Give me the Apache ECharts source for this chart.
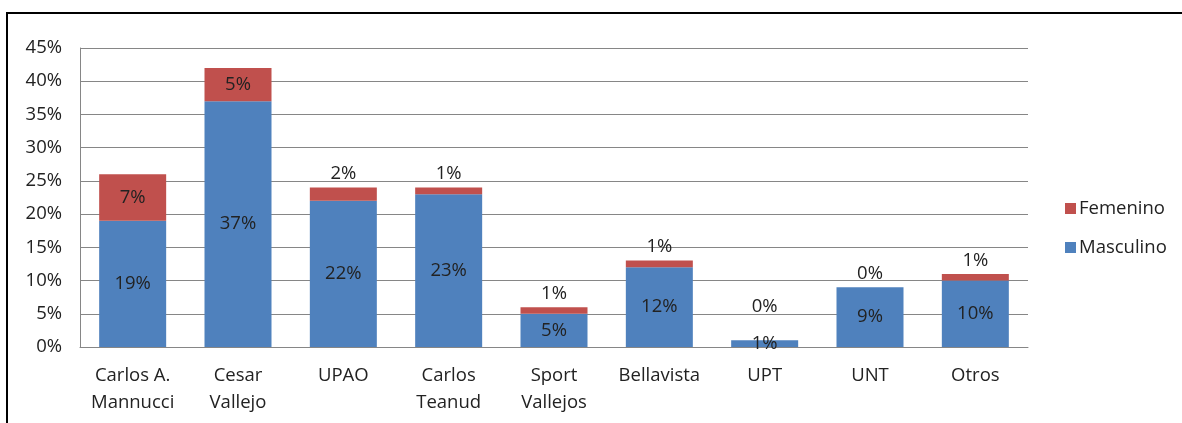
<!DOCTYPE html>
<html>
<head>
<meta charset="utf-8">
<script src="https://cdn.jsdelivr.net/npm/echarts@6/dist/echarts.min.js"></script>
<style>
  html, body { margin: 0; padding: 0; background: #fff; }
  #chart { width: 1182px; height: 423px; }
</style>
</head>
<body>
<div id="chart"></div>
<script>
// datos del gráfico
const categories = ['Carlos A.\nMannucci', 'Cesar\nVallejo', 'UPAO', 'Carlos\nTeanud', 'Sport\nVallejos', 'Bellavista', 'UPT', 'UNT', 'Otros'];
const masculino = [19, 37, 22, 23, 5, 12, 1, 9, 10];
const femenino = [7, 5, 2, 1, 1, 1, 0, 0, 1];
const yTicks = [0, 5, 10, 15, 20, 25, 30, 35, 40, 45];

const font = '"Open Sans", "Noto Sans", sans-serif';
const fs = 18.5;

const chart = echarts.init(document.getElementById('chart'));

// etiqueta de Femenino: dentro si el segmento es grande, encima si es pequeño
const femData = femenino.map((v, i) => {
  const small = v < 4;
  const label = small
    ? { position: 'top', distance: 4, offset: [0, masculino[i] < 3 ? -20 : 0] }
    : { position: 'inside' };
  return { value: v, label };
});

chart.setOption({
  animation: false,
  textStyle: { fontFamily: font },
  graphic: [{
    type: 'rect',
    shape: { x: 7, y: 13, width: 1300, height: 600 },
    style: { fill: 'none', stroke: '#000', lineWidth: 2 },
    silent: true
  }],
  grid: { left: 80, right: 154, top: 48, bottom: 76 },
  legend: {
    orient: 'vertical',
    left: 1060,
    top: 194,
    itemWidth: 11,
    itemHeight: 11,
    itemGap: 20,
    icon: 'rect',
    data: ['Femenino', 'Masculino'],
    textStyle: { fontSize: fs, color: '#222', fontFamily: font, padding: [0, 0, 0, -2] }
  },
  xAxis: {
    type: 'category',
    data: categories,
    axisLine: { lineStyle: { color: '#868686' } },
    axisTick: { show: false },
    axisLabel: { fontSize: fs, color: '#222', lineHeight: 27, margin: 15, interval: 0, fontFamily: font }
  },
  yAxis: {
    type: 'value',
    min: 0,
    max: 45,
    interval: 5,
    axisLine: { show: true, lineStyle: { color: '#868686' } },
    axisTick: { show: false },
    splitLine: { lineStyle: { color: '#868686' } },
    axisLabel: {
      fontSize: fs, color: '#222', margin: 18, fontFamily: font,
      formatter: v => (yTicks.includes(v) ? v + '%' : '')
    }
  },
  series: [
    {
      name: 'Masculino',
      type: 'bar',
      stack: 'total',
      data: masculino,
      barWidth: 67,
      itemStyle: { color: '#4F81BD' },
      label: { show: true, position: 'inside', color: '#222', fontSize: fs, fontFamily: font, formatter: '{c}%' }
    },
    {
      name: 'Femenino',
      type: 'bar',
      stack: 'total',
      data: femData,
      barWidth: 67,
      itemStyle: { color: '#C0504D' },
      label: { show: true, color: '#222', fontSize: fs, fontFamily: font, formatter: '{c}%' }
    }
  ]
});
</script>
</body>
</html>
